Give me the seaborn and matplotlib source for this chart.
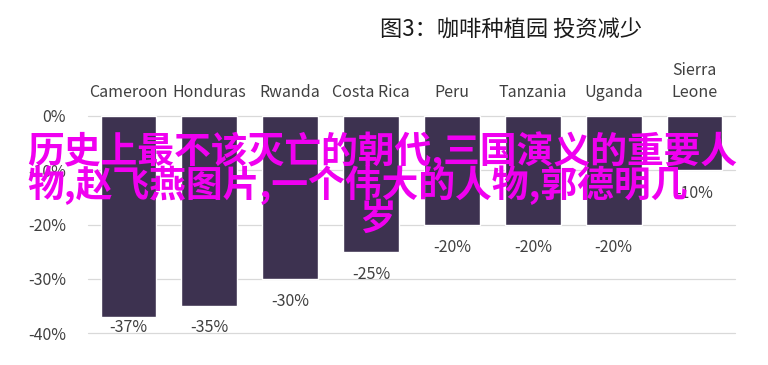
import matplotlib
matplotlib.use("Agg")
import matplotlib.pyplot as plt
import seaborn as sns
import pandas as pd

categories = ["Cameroon", "Honduras", "Rwanda", "Costa Rica", "Peru",
              "Tanzania", "Uganda", "Sierra\nLeone"]
values = [-37, -35, -30, -25, -20, -20, -20, -10]
yticks = [0, -10, -20, -30, -40]
ytick_labels = ["0%", "-10%", "-20%", "-30%", "-40%"]
title = "图3：咖啡种植园 投资减少"
overlay_lines = ["历史上最不该灭亡的朝代,三国演义的重要人",
                 "物,赵飞燕图片,一个伟大的人物,郭德明几",
                 "岁"]

sns.set_theme(style="white")
plt.rcParams['font.family'] = ['Noto Sans CJK SC', 'DejaVu Sans']
narrow = ['Liberation Sans Narrow', 'Noto Sans CJK SC', 'DejaVu Sans']

df = pd.DataFrame({"country": categories, "value": values})

fig = plt.figure(figsize=(7.68, 3.65), dpi=100)
ax = fig.add_axes([88/768, 1-333/365, (735-88)/768, (333-116)/365])

sns.barplot(data=df, x="country", y="value", color="#3D3250",
            saturation=1, width=0.69, ax=ax, zorder=3)

ax.set_ylim(-40, 0)
ax.set_xlim(-0.5, len(categories)-0.5)
ax.set_yticks(yticks)
ax.set_yticklabels(ytick_labels)
for y in yticks:
    ax.axhline(y, color="#D9D9D9", lw=0.9, zorder=1, clip_on=False)
for s in ax.spines.values():
    s.set_visible(False)
ax.xaxis.tick_top()
ax.set_xlabel("")
ax.set_ylabel("")
ax.tick_params(axis='x', length=0, pad=11, labelsize=11.5, colors="#404040")
ax.tick_params(axis='y', length=0, pad=16, labelsize=11.5, colors="#404040")
for lab in ax.get_xticklabels() + ax.get_yticklabels():
    lab.set_family(narrow)
for lab in ax.get_xticklabels():
    lab.set_linespacing(1.35)

for i, v in enumerate(values):
    ly = max(v - 4.2, -38.9)
    ax.text(i, ly, f"{v}%", ha="center", va="center", fontsize=11.5,
            color="#404040", family=narrow, zorder=4)

fig.text(511/768, 1-30/365, title, ha="center", va="center",
         fontsize=16, color="#1A1A1A", family=['Noto Sans CJK SC', 'DejaVu Sans'])

ov_kw = dict(va="center", fontsize=26.5, color="#F000F0", fontweight="bold",
             zorder=10, family=['Noto Sans CJK SC', 'DejaVu Sans'])
fig.text(27/768, 1-151/365, overlay_lines[0], ha="left", **ov_kw)
fig.text(27/768, 1-185/365, overlay_lines[1], ha="left", **ov_kw)
fig.text(378/768, 1-219/365, overlay_lines[2], ha="center", **ov_kw)

fig.savefig("out.png", dpi=100, facecolor="white")
